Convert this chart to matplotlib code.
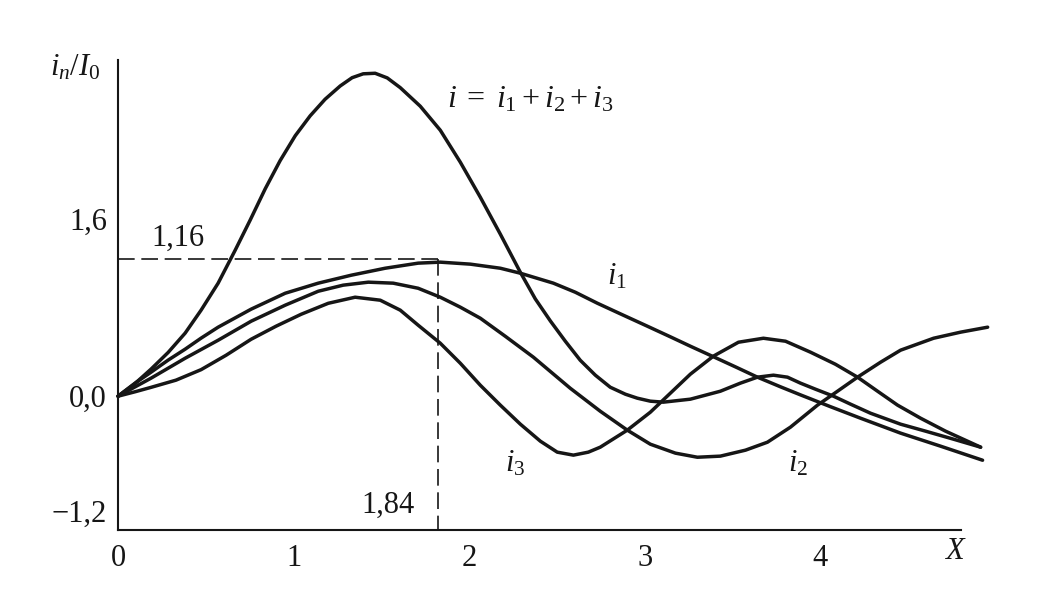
import matplotlib
matplotlib.use("Agg")
import matplotlib.pyplot as plt

plt.rcParams['font.family'] = ['Liberation Serif', 'DejaVu Serif']
plt.rcParams['mathtext.fontset'] = 'custom'
plt.rcParams['mathtext.rm'] = 'Liberation Serif'
plt.rcParams['mathtext.it'] = 'Liberation Serif:italic'

# curves (x in X units, y in i_n/I_0)
x_sum = [0.000, 0.097, 0.188, 0.285, 0.382, 0.473, 0.570, 0.667, 0.752, 0.838,
         0.923, 1.009, 1.094, 1.179, 1.265, 1.333, 1.396, 1.464, 1.533, 1.607,
         1.721, 1.835, 1.949, 2.063, 2.177, 2.291, 2.376, 2.462, 2.547, 2.632,
         2.718, 2.803, 2.889, 2.957, 3.031, 3.105, 3.259, 3.430, 3.544, 3.641,
         3.732, 3.812, 3.886, 3.972, 4.074, 4.171, 4.285, 4.456, 4.598, 4.758,
         4.912]
y_sum = [0.000, 0.115, 0.245, 0.395, 0.570, 0.778, 1.022, 1.320, 1.591, 1.875,
         2.130, 2.355, 2.535, 2.685, 2.805, 2.880, 2.915, 2.920, 2.878, 2.790,
         2.622, 2.405, 2.116, 1.799, 1.465, 1.120, 0.880, 0.680, 0.497, 0.325,
         0.190, 0.081, 0.018, -0.018, -0.045, -0.054, -0.027, 0.045, 0.118, 0.172,
         0.190, 0.172, 0.118, 0.063, 0.000, -0.072, -0.154, -0.253, -0.316, -0.389,
         -0.461]

x_i1 = [0.000, 0.097, 0.188, 0.285, 0.382, 0.473, 0.570, 0.758, 0.952, 1.140,
        1.328, 1.521, 1.709, 1.835, 2.006, 2.177, 2.291, 2.479, 2.604, 2.729,
        2.860, 3.014, 3.145, 3.259, 3.390, 3.516, 3.641, 3.772, 3.886, 4.057,
        4.228, 4.456, 4.684, 4.923]
y_i1 = [0.000, 0.118, 0.217, 0.326, 0.425, 0.525, 0.624, 0.787, 0.931, 1.022,
        1.094, 1.157, 1.203, 1.212, 1.194, 1.157, 1.112, 1.022, 0.940, 0.841,
        0.745, 0.633, 0.537, 0.452, 0.357, 0.265, 0.172, 0.085, 0.012, -0.095,
        -0.199, -0.334, -0.452, -0.579]

x_i2 = [0.000, 0.188, 0.382, 0.570, 0.758, 0.952, 1.140, 1.282, 1.425, 1.567,
        1.709, 1.835, 1.949, 2.063, 2.205, 2.365, 2.575, 2.746, 2.900, 3.031,
        3.174, 3.299, 3.430, 3.573, 3.698, 3.829, 3.983, 4.097, 4.211, 4.342,
        4.456, 4.644, 4.798, 4.952]
y_i2 = [0.000, 0.163, 0.343, 0.506, 0.678, 0.823, 0.949, 1.004, 1.031, 1.022,
        0.976, 0.895, 0.805, 0.705, 0.542, 0.353, 0.072, -0.136, -0.307, -0.434,
        -0.515, -0.552, -0.542, -0.488, -0.416, -0.280, -0.081, 0.045, 0.172, 0.307,
        0.416, 0.524, 0.579, 0.624]

x_i3 = [0.000, 0.097, 0.188, 0.330, 0.473, 0.615, 0.758, 0.900, 1.043, 1.197,
        1.350, 1.493, 1.607, 1.709, 1.835, 1.949, 2.063, 2.177, 2.291, 2.405,
        2.501, 2.593, 2.678, 2.746, 2.900, 3.031, 3.145, 3.259, 3.390, 3.533,
        3.675, 3.801, 3.943, 4.085, 4.211, 4.325, 4.439, 4.570, 4.712, 4.912]
y_i3 = [0.000, 0.040, 0.080, 0.145, 0.240, 0.370, 0.515, 0.633, 0.741, 0.840,
        0.895, 0.868, 0.778, 0.642, 0.479, 0.298, 0.099, -0.081, -0.253, -0.407,
        -0.506, -0.533, -0.506, -0.461, -0.307, -0.145, 0.027, 0.199, 0.362, 0.488,
        0.524, 0.497, 0.398, 0.289, 0.172, 0.045, -0.081, -0.199, -0.316, -0.461]

peak_x = 1.82
peak_y = 1.24

ytick_vals = [1.6, 0.0, -1.2]
ytick_labels = ['1,6', '0,0', '\u22121,2']
xtick_vals = [0, 1, 2, 3, 4]

ink = '#161616'

fig = plt.figure(figsize=(10.53, 6.06), dpi=100)
ax = fig.add_axes([0.1121, 0.1254, 0.9126 - 0.1121, 0.901 - 0.1254])

for xs, ys in [(x_sum, y_sum), (x_i1, y_i1), (x_i2, y_i2), (x_i3, y_i3)]:
    ax.plot(xs, ys, color=ink, lw=2.5, clip_on=False, solid_capstyle='round',
            solid_joinstyle='round')

# dashed guides to the maximum of i1
ax.plot([0, peak_x], [peak_y, peak_y], color=ink, lw=1.2, ls=(0, (10, 4)))
ax.plot([peak_x, peak_x], [peak_y, -1.21], color=ink, lw=1.2, ls=(0, (10, 4)))

ax.set_xlim(0, 4.80)
ax.set_ylim(-1.21, 3.04)

for s in ['top', 'right']:
    ax.spines[s].set_visible(False)
for s in ['left', 'bottom']:
    ax.spines[s].set_linewidth(1.5)
    ax.spines[s].set_color(ink)

ax.set_xticks(xtick_vals)
ax.set_xticklabels([str(v) for v in xtick_vals])
ax.set_yticks(ytick_vals)
ax.set_yticklabels(ytick_labels)
ax.tick_params(length=0, labelsize=22, colors=ink)
ax.tick_params(axis='x', pad=10)
ax.tick_params(axis='y', pad=8)
ax.get_yticklabels()[2].set_verticalalignment('bottom')

fs = 22
ax.text(-0.245, 2.97, r'$i_n/I_0$', fontsize=fs, ha='center', va='center',
        color=ink, clip_on=False)
ax.text(1.875, 2.68, r'$i\;=\;i_1+i_2+i_3$', fontsize=23, ha='left',
        va='center', color=ink)
ax.text(0.342, 1.43, '1,16', fontsize=fs, ha='center', va='center', color=ink)
ax.text(1.538, -0.99, '1,84', fontsize=fs, ha='center', va='center', color=ink)
ax.text(2.843, 1.08, r'$i_1$', fontsize=fs, ha='center', va='center', color=ink)
ax.text(2.262, -0.61, r'$i_3$', fontsize=fs, ha='center', va='center', color=ink)
ax.text(3.875, -0.61, r'$i_2$', fontsize=fs, ha='center', va='center', color=ink)
ax.text(4.77, -1.40, r'$X$', fontsize=fs, ha='center', va='center', color=ink,
        clip_on=False)

fig.savefig('out.png', dpi=100)
